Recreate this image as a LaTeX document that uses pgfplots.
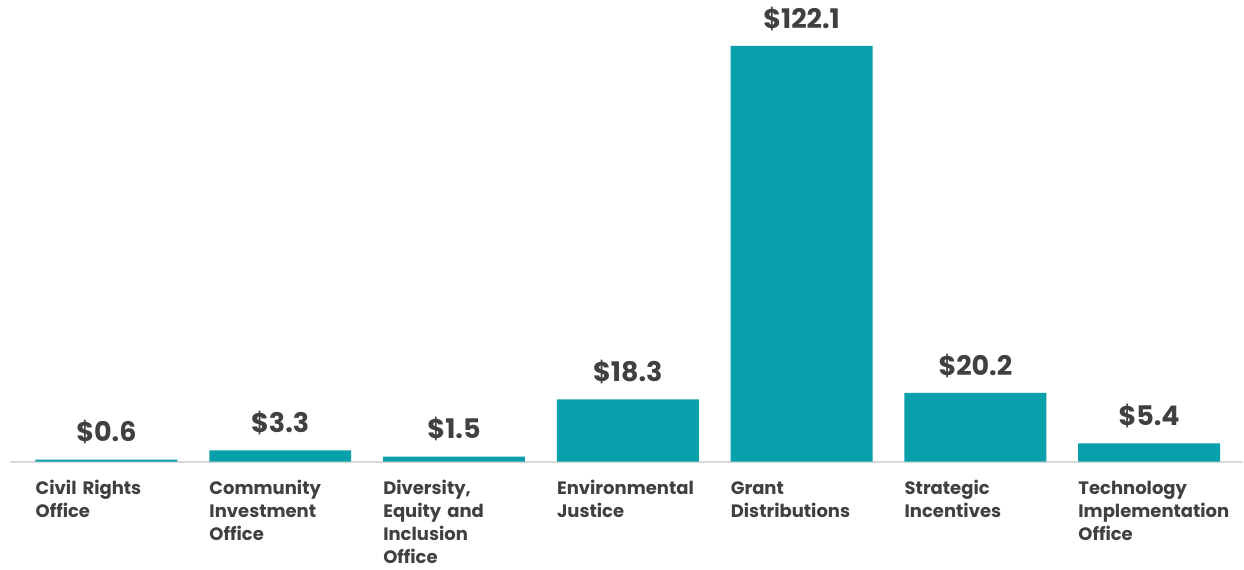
\documentclass[border=0pt]{standalone}
\usepackage{fontspec}
\setmainfont{Poppins}
\usepackage{pgfplots}
\pgfplotsset{compat=1.18}
\definecolor{barteal}{HTML}{07A0AB}
\definecolor{txt}{HTML}{404040}
\definecolor{axgray}{HTML}{D9D9D9}
\begin{document}
\begin{tikzpicture}
\begin{axis}[
  scale only axis, width=1234pt, height=462pt,
  xmin=-0.555, xmax=6.54, ymin=0, ymax=135.6,
  clip=false,
  axis y line=none, axis x line*=bottom,
  x axis line style={draw=axgray, line width=2pt, -},
  ybar, bar width=142pt,
  xtick={0,...,6}, major tick length=0pt,
  xticklabels={{\strut Civil Rights\\Office},{\strut Community\\Investment\\Office},{\strut Diversity,\\Equity and\\Inclusion\\Office},{\strut Environmental\\Justice},{\strut Grant\\Distributions},{\strut Strategic\\Incentives},{\strut Technology\\Implementation\\Office}},
  xticklabel style={anchor=north west, xshift=-71pt, yshift=-16pt, text width=160pt, align=left,
    font=\fontsize{18}{23.2}\selectfont\bfseries, text=txt, inner sep=0pt},
  nodes near coords,
  point meta=explicit symbolic,
  nodes near coords style={font=\fontsize{27}{30}\selectfont\bfseries, text=txt, anchor=south, yshift=12pt},
]
\addplot[fill=barteal, draw=none] coordinates {
  (0,0.6) [\$0.6]
  (1,3.3) [\$3.3]
  (2,1.5) [\$1.5]
  (3,18.3) [\$18.3]
  (4,122.1) [\$122.1]
  (5,20.2) [\$20.2]
  (6,5.4) [\$5.4]
};
\end{axis}
\path (current axis.south west) ++(-10pt,-108pt) rectangle (current axis.north east);
\end{tikzpicture}
\end{document}
